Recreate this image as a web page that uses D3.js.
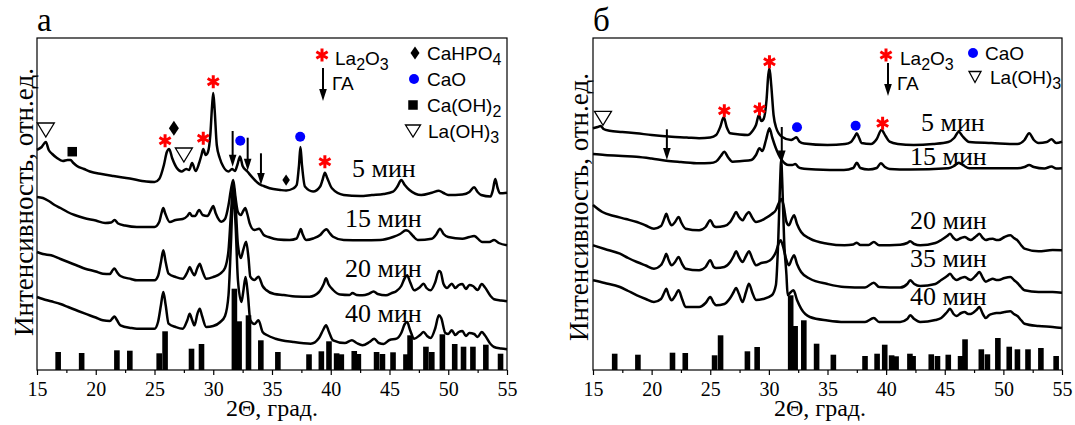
<!DOCTYPE html>
<html><head><meta charset="utf-8">
<script src="https://cdn.jsdelivr.net/npm/d3@7"></script>
<style>body{margin:0;background:#fff}svg{display:block}</style>
</head><body>
<svg id="chart" width="1075" height="425"></svg>
<script>
// ---------------- DATA ----------------
const xTickValues = [15, 20, 25, 30, 35, 40, 45, 50, 55];
const xMinorTickValues = [17.5, 22.5, 27.5, 32.5, 37.5, 42.5, 47.5, 52.5];
const xAxisTitle = "2Θ, град.";
const yAxisTitle = "Интенсивность, отн.ед.";

// Panel а : XRD patterns [2θ, intensity (arb. units)]
const a5min = [[15.0,220],[15.4,223],[15.75,228],[16.0,220],[16.3,216],[16.7,212],[17.2,209],[17.6,210],[17.85,210],[18.1,207],[18.4,204],[19.0,201],[19.5,198.5],[20.5,196],[21.5,194],[22.9,191.5],[24.3,188.5],[25.0,188],[25.4,191],[25.8,205],[26.05,218],[26.25,221],[26.5,212],[26.9,202],[27.3,198.5],[27.7,201],[27.95,200],[28.2,207],[28.5,199],[28.8,207],[29.0,215],[29.15,221],[29.35,215],[29.55,218],[29.75,235],[29.9,264],[30.0,277],[30.12,260],[30.3,225],[30.55,212],[30.85,203.5],[31.3,198.5],[31.6,201],[31.85,199],[32.05,205],[32.28,213.5],[32.5,204],[32.9,198.5],[33.4,191.7],[33.8,187],[34.05,185],[34.3,184],[34.8,181.7],[35.7,180],[36.2,179.5],[36.8,181.5],[37.1,185],[37.3,205],[37.42,223],[37.55,205],[37.8,183.5],[38.5,178.5],[39.1,183.5],[39.3,190],[39.5,197.3],[39.7,192],[40.1,181.7],[41.1,175],[42.5,174],[43.5,175],[44.5,176],[45.3,178.3],[45.7,184],[46.0,190],[46.3,185],[46.7,180],[47.7,175],[48.6,177.3],[49.2,179.3],[49.6,177],[50.0,175],[51.2,175.5],[51.8,178],[52.2,182.7],[52.5,178],[52.8,175],[53.6,173.5],[53.8,180],[54.0,191],[54.2,182],[54.4,176.7],[55.0,177.3]];
const a15min = [[15.0,173],[15.5,172],[16.0,169],[16.5,165],[17.0,162],[17.6,158],[18.2,155],[19.0,152],[20.0,149.5],[20.8,147],[21.3,147.5],[21.6,150],[21.9,146.5],[22.5,144.5],[23.5,143],[25.0,143],[25.4,148],[25.6,157],[25.75,162],[25.9,157],[26.3,148],[26.8,150],[27.4,151],[27.8,154],[28.0,157],[28.2,154],[28.45,154],[28.8,160],[29.1,155],[29.5,154],[29.8,160],[30.0,164],[30.2,157],[30.7,148.3],[31.0,151],[31.3,165],[31.5,180],[31.7,190],[31.9,172],[32.1,158],[32.35,155],[32.55,159],[32.72,162],[32.9,156],[33.1,146.7],[33.5,140],[33.9,141.3],[34.3,135],[34.7,133],[35.5,130.5],[36.5,130],[37.1,131.5],[37.3,137],[37.45,141],[37.6,136],[37.9,130],[38.5,131.5],[39.1,135],[39.45,139.5],[39.65,140.7],[39.9,137],[40.2,133.3],[41.1,130],[42.7,129.7],[44.2,130],[45.3,133],[45.9,136],[46.4,139.7],[46.6,139],[47.0,134],[47.4,130],[48.6,131.3],[49.0,136],[49.3,141.3],[49.6,136],[50.0,133],[51.2,131.3],[51.8,133],[52.2,134],[52.9,128],[53.5,128],[53.9,130],[54.3,127],[55.0,124.7]];
const a20min = [[15.0,118],[15.5,116],[16.2,114.7],[17.0,111],[17.65,108],[18.5,104],[19.1,101.3],[20.0,98.5],[20.6,96.3],[21.2,96],[21.45,100],[21.6,101.5],[21.8,98],[22.1,94],[23.0,91],[23.5,89.7],[25.0,89.7],[25.3,94],[25.55,108],[25.75,119.7],[25.95,108],[26.2,96.3],[26.8,93],[27.4,91.3],[27.8,98],[28.0,103],[28.2,98],[28.4,94.7],[28.65,102],[28.85,106.3],[29.05,100],[29.4,91.3],[30.0,93],[30.6,96.3],[31.0,102],[31.3,120],[31.5,155],[31.7,184],[31.9,165],[32.1,125],[32.35,112],[32.55,120],[32.8,128.3],[33.0,112],[33.15,93.3],[33.5,90],[33.85,93.3],[34.2,84],[34.5,80],[35.2,76],[36.0,75],[37.0,73.5],[38.2,73.3],[39.0,78],[39.4,86],[39.6,91.7],[39.8,86],[40.2,80],[40.8,75.5],[41.6,75],[41.85,77],[42.2,75],[42.7,74.7],[43.2,76],[43.65,78.5],[44.0,76],[44.7,74.7],[45.2,77],[45.6,79],[46.0,84],[46.3,92],[46.5,94.7],[46.75,88],[47.1,79.7],[47.6,83],[47.9,86.3],[48.15,82],[48.5,79.7],[48.9,88],[49.2,99],[49.35,98],[49.6,86],[49.9,82],[50.3,86.3],[50.6,82],[50.9,85],[51.2,86],[51.5,81],[51.8,85],[52.1,84],[52.5,80],[52.85,86],[53.1,83],[53.6,74],[53.9,70.7],[54.5,69.5],[55.0,68.7]];
const a40min = [[15.0,73],[15.5,71],[16.2,68.7],[17.0,66],[17.65,63],[18.5,59],[19.1,56.3],[20.0,52.5],[20.6,49.7],[21.2,49],[21.45,52],[21.6,53.5],[21.8,50],[22.1,44.7],[23.0,42],[23.5,41.3],[25.0,41.3],[25.3,48],[25.55,65],[25.75,78],[25.95,65],[26.2,46.3],[26.8,43],[27.4,41.3],[27.8,50],[28.0,56.3],[28.2,50],[28.4,44.7],[28.65,56],[28.85,61.3],[29.05,54],[29.4,43],[30.0,44],[30.6,48],[31.0,54],[31.3,75],[31.5,125],[31.7,178],[31.9,145],[32.1,90],[32.4,68],[32.55,78],[32.75,93],[32.95,75],[33.15,50],[33.5,46],[33.85,49.7],[34.2,38],[34.6,34.7],[35.3,31.3],[36.8,28],[38.3,26.3],[39.0,32],[39.35,40],[39.6,44.7],[39.85,38],[40.2,29.7],[41.2,27],[41.8,29.7],[42.2,27],[42.7,24.7],[43.3,28],[43.7,31.3],[44.1,27],[44.5,26],[45.0,30],[45.6,31.3],[46.0,37],[46.3,46],[46.5,48],[46.75,40],[47.1,31.3],[47.6,35],[47.9,38],[48.2,34],[48.5,32],[48.9,42],[49.2,54.7],[49.4,52],[49.75,37],[50.0,36],[50.3,39.7],[50.6,35],[50.9,38],[51.2,39],[51.5,34],[51.8,37],[52.2,36],[52.5,33],[52.85,38],[53.1,35],[53.6,26],[53.9,23],[54.5,21.5],[55.0,20.7]];

// Panel б
const b5min = [[15.0,241.7],[15.4,243],[15.65,244],[15.9,241],[16.4,239.3],[17.5,238],[18.7,236.7],[20.0,235],[21.7,233.3],[23.0,232.5],[24.05,231.7],[25.0,232.5],[25.5,235],[25.85,243],[26.15,252.7],[26.4,243],[26.7,236.7],[27.5,235.5],[28.2,235],[28.6,239],[28.9,245],[29.15,255],[29.35,249],[29.55,251],[29.8,270],[29.95,295],[30.05,301.7],[30.2,285],[30.4,255],[30.6,243],[31.1,233.3],[31.9,230],[32.15,231.5],[32.35,232.7],[32.6,228.5],[33.0,226.5],[35.0,225],[36.5,226],[37.0,228],[37.3,233],[37.5,236.7],[37.7,232],[37.9,227],[38.7,226],[39.2,231],[39.6,240],[39.95,234],[40.3,228.3],[41.0,226],[42.35,225],[44.0,226],[45.3,228],[45.8,232],[46.2,238.3],[46.5,234],[47.1,228],[49.0,227],[51.2,226],[51.8,230],[52.2,236.7],[52.6,230],[53.0,227],[53.7,228],[54.1,230.7],[54.5,227],[55.0,228.3]];
const b15min = [[15.0,216],[16.0,215],[17.5,214],[18.7,213.3],[20.0,211.5],[21.25,209.3],[22.5,208],[24.05,206.7],[25.0,207],[25.5,208.5],[25.9,214],[26.2,218.3],[26.5,213],[26.9,208.3],[27.7,209],[28.5,210],[28.9,215],[29.2,221.7],[29.45,219],[29.75,230],[30.05,241.7],[30.3,232],[30.55,223.3],[31.1,210],[31.7,205],[32.0,205],[32.25,206],[32.5,203],[32.75,201.7],[34.0,200.5],[36.4,200],[37.2,202],[37.5,207.3],[37.8,202],[38.5,200.5],[39.2,202],[39.55,206.7],[39.9,203],[40.3,201],[42.0,200.5],[45.3,201.7],[45.8,204],[46.2,207.3],[46.6,204.5],[47.1,201.7],[51.2,201.7],[51.8,203],[52.2,205],[52.6,203],[53.5,201.5],[54.1,203.5],[54.5,201.5],[55.0,201.7]];
const b20min = [[15.0,165],[15.8,158],[16.8,154],[17.8,151],[18.75,148],[19.5,144.5],[20.2,141.3],[20.8,144],[21.1,152],[21.25,156.3],[21.45,150],[21.7,144.7],[22.0,148],[22.3,153],[22.55,147],[22.9,141.3],[24.05,139.7],[24.6,143],[25.0,149.7],[25.3,144],[25.5,143],[26.2,144],[26.7,148],[27.0,154],[27.2,158],[27.45,153],[27.75,149.7],[28.05,155],[28.3,158],[28.55,153],[28.9,148],[29.65,151.3],[30.25,156],[30.6,160],[30.85,167],[31.05,171],[31.25,165],[31.5,148],[31.7,144.7],[31.95,151],[32.15,154.7],[32.4,146],[32.75,138],[33.5,131.3],[35.0,126.3],[36.45,124.7],[37.2,125.5],[37.5,127.3],[37.8,125],[38.5,125],[38.95,128],[39.4,124.7],[41.2,125.3],[41.8,127],[42.05,128.7],[42.4,126],[42.9,124.7],[44.2,127],[44.7,130],[45.2,134],[45.45,136.3],[45.75,132],[46.0,130],[46.4,132],[46.7,133],[47.0,131],[47.2,130],[47.7,134],[47.95,136.3],[48.25,132],[48.5,130],[48.8,131],[49.1,131.3],[49.4,130],[49.6,130],[50.1,133],[50.6,134.7],[50.9,132],[51.2,129.7],[51.5,125],[51.8,121.3],[53.0,118.7],[54.2,120],[55.0,119.7]];
const b35min = [[15.0,124.7],[16.0,121],[17.3,116.3],[18.0,112],[18.75,108],[19.5,104.5],[20.2,101.3],[20.8,105],[21.1,112],[21.25,116.3],[21.45,110],[21.7,104.7],[22.0,108],[22.3,113],[22.6,106],[22.9,101.3],[24.05,99.7],[24.6,103],[25.0,109.7],[25.3,103],[25.5,102],[26.2,103],[26.7,108],[27.0,114],[27.2,118.7],[27.45,113],[27.75,108],[28.05,114],[28.3,118.7],[28.6,111],[28.9,104.7],[29.35,107],[29.8,108],[30.25,111.3],[30.6,118],[30.85,127],[31.0,129.7],[31.2,124],[31.45,112],[31.7,104.7],[31.95,111],[32.15,114.7],[32.4,106],[32.75,98],[33.5,91.3],[35.0,86],[36.45,83],[38.2,82.5],[38.95,87.3],[39.4,83],[41.2,82.5],[41.8,86],[42.05,89.7],[42.4,86],[42.9,84],[44.2,86],[44.7,90],[45.2,94],[45.45,96.3],[45.75,92],[46.0,90],[46.4,92],[46.7,93],[47.0,91],[47.2,90],[47.7,95],[47.95,98],[48.25,92],[48.5,88.3],[48.8,90],[49.1,91.3],[49.4,90],[49.6,90],[50.1,92],[50.6,93],[50.9,90],[51.2,87],[51.5,83],[51.8,79.7],[53.0,78],[54.2,78],[55.0,77.3]];
const b40min = [[15.0,89.7],[16.0,87],[17.3,83],[18.0,79],[18.75,74.7],[19.5,71],[20.2,68],[20.8,71],[21.1,78],[21.25,81.3],[21.45,75],[21.7,69.7],[22.0,74],[22.3,79.7],[22.6,71],[22.9,63],[24.05,63],[24.6,67],[25.0,73],[25.3,67],[25.5,64.7],[26.2,66],[26.7,72],[27.0,78],[27.2,82],[27.45,76],[27.75,68],[28.05,78],[28.3,86.3],[28.6,77],[28.9,70],[29.5,71],[30.25,74.7],[30.6,85],[30.8,130],[30.95,185],[31.05,210],[31.15,185],[31.3,130],[31.5,95],[31.6,75],[31.8,77],[32.1,79.7],[32.4,70],[32.75,61.3],[33.5,53],[35.0,49.5],[36.45,48],[38.2,48],[38.95,52],[39.4,48],[41.2,48],[41.8,51],[42.05,54.7],[42.4,51],[42.9,48],[44.2,50],[44.7,52],[45.2,58],[45.45,61.3],[45.75,56],[46.0,54],[46.4,57],[46.7,58],[47.0,56],[47.2,56],[47.7,60],[47.95,63],[48.25,56],[48.5,52],[48.8,55],[49.1,56.3],[49.4,57],[49.6,57],[50.1,58],[50.6,58.7],[50.9,56],[51.2,54],[51.5,50],[51.8,46.3],[53.0,44],[54.2,43],[55.0,42]];

// Hydroxyapatite reference lines [2θ, relative height]
const haRefA = [[16.8,18],[18.8,17],[21.8,19.7],[22.9,19.3],[25.4,16.7],[25.9,38.7],[28.15,21.3],[29.0,26],[31.8,81.3],[32.2,48.7],[33.0,54.7],[34.05,29.7],[35.5,18],[38.15,15.7],[39.2,18.7],[39.85,28.7],[40.5,16.7],[40.9,15.7],[42.0,19],[42.35,16],[43.9,18],[44.4,16],[45.3,17.7],[46.4,15.7],[46.75,34.7],[48.1,23.3],[48.6,18],[49.5,35.7],[50.55,26],[51.3,23.3],[52.1,23.3],[53.2,25.3],[54.45,16.3]];
const haRefB = [[16.85,16.3],[18.83,15.3],[21.78,17.3],[22.87,17],[25.37,14.7],[25.88,34.7],[28.17,18.7],[29.0,23],[31.86,74.7],[32.24,44],[32.98,49.7],[34.07,26.3],[35.5,15.3],[38.2,14],[39.23,16.3],[39.88,25.3],[40.47,14.7],[40.85,13.7],[42.03,16.3],[42.3,14],[43.85,15.7],[44.38,14],[45.3,15.3],[46.35,14],[46.73,30.7],[48.12,20.7],[48.64,15.7],[49.53,32],[50.5,23.3],[51.2,20.7],[52.1,20.7],[53.2,22],[54.5,14]];

// Phase markers [2θ, level]
const aLa2O3 = [[25.9,229.3],[29.15,231.7],[30.0,288.3],[39.5,208.3]];
const aCaO = [[32.3,229.3],[37.4,233.3]];
const aCaHPO4 = [[26.65,241.7,1],[36.2,190,0.75]];
const aCaOH2 = [[18.0,218.3]];
const aLaOH3 = [[15.75,240],[27.5,215]];
const aHA = [[31.65,239,203.3],[32.93,232.3,199.3],[34.06,216.7,185]]; // [2θ, top, tip]
const bLa2O3 = [[26.2,259.3],[29.2,261],[30.05,308.3],[39.7,246.7]];
const bCaO = [[32.4,242.7],[37.4,244.3]];
const bLaOH3 = [[15.85,251.7]];
const bHA = [[21.3,240.7,210],[31.1,243,207.5]];

const aLabels = ["5 мин","15 мин","20 мин","40 мин"];
const bLabels = ["5 мин","15 мин","20 мин","35 мин","40 мин"];

// ---------------- DRAWING ----------------
const svg = d3.select("#chart");
const SERIF = "'Liberation Serif','Times New Roman',serif";
const SANS = "'Liberation Sans',Arial,sans-serif";

function asterisk(g, cx, cy, r) {
  let d = "";
  for (let k = 0; k < 3; k++) {
    const a = Math.PI / 2 + k * Math.PI / 3;
    d += `M${cx + r * Math.cos(a)},${cy - r * Math.sin(a)}L${cx - r * Math.cos(a)},${cy + r * Math.sin(a)}`;
  }
  g.append("path").attr("d", d).attr("stroke", "#ff0000").attr("stroke-width", 3).attr("stroke-linecap", "butt");
}
function dot(g, cx, cy, r) { g.append("circle").attr("cx", cx).attr("cy", cy).attr("r", r).attr("fill", "#0000ff"); }
function diamond(g, cx, cy, w, h) {
  g.append("path").attr("d", `M${cx},${cy - h/2}L${cx + w/2},${cy}L${cx},${cy + h/2}L${cx - w/2},${cy}Z`).attr("fill", "#000");
}
function square(g, cx, cy, s) { g.append("rect").attr("x", cx - s/2).attr("y", cy - s/2).attr("width", s).attr("height", s).attr("fill", "#000"); }
function triDown(g, cx, cy, w, h) {
  g.append("path").attr("d", `M${cx - w/2},${cy - h/2}L${cx + w/2},${cy - h/2}L${cx},${cy + h/2}Z`)
    .attr("fill", "#fff").attr("stroke", "#000").attr("stroke-width", 1.3);
}
function arrow(g, x, y1, y2) {
  g.append("line").attr("x1", x).attr("x2", x).attr("y1", y1).attr("y2", y2 - 8).attr("stroke", "#000").attr("stroke-width", 2);
  g.append("path").attr("d", `M${x - 3.8},${y2 - 12}L${x + 3.8},${y2 - 12}L${x},${y2}Z`).attr("fill", "#000");
}
function chemText(g, x, y, parts) {
  const t = g.append("text").attr("x", x).attr("y", y).attr("font-family", SANS).attr("font-size", 19).attr("fill", "#000");
  let sub = false;
  parts.forEach(p => {
    const isSub = /^[0-9]$/.test(p);
    const ts = t.append("tspan").text(p);
    if (isSub && !sub) { ts.attr("dy", 5).attr("font-size", 16); sub = true; }
    else if (isSub && sub) { ts.attr("font-size", 16); }
    else if (!isSub && sub) { ts.attr("dy", -5); sub = false; }
  });
}

function panel(opt) {
  const g = svg.append("g");
  const x = d3.scaleLinear().domain([15, 55]).range([opt.left, opt.right]);
  const y = d3.scaleLinear().domain([0, 332]).range([370, 38]);
  const line = d3.line().x(d => x(d[0])).y(d => y(d[1])).curve(d3.curveMonotoneX);

  // reference bars
  g.selectAll("rect.bar").data(opt.bars).join("rect").attr("class", "bar")
    .attr("x", d => x(d[0]) - 2.8).attr("width", 5.6)
    .attr("y", d => y(d[1])).attr("height", d => y(0) - y(d[1])).attr("fill", "#000");

  // curves
  opt.curves.forEach(c => {
    g.append("path").datum(c).attr("d", line).attr("fill", "none")
      .attr("stroke", "#000").attr("stroke-width", 2.5).attr("stroke-linejoin", "round");
  });

  // frame
  g.append("rect").attr("x", opt.left).attr("y", 38).attr("width", opt.right - opt.left).attr("height", 332)
    .attr("fill", "none").attr("stroke", "#000").attr("stroke-width", 1.2);

  // axis
  const ax = g.append("g").attr("transform", "translate(0,370)")
    .call(d3.axisBottom(x).tickValues(xTickValues).tickSize(5).tickPadding(7).tickFormat(d3.format("d")));
  ax.select(".domain").remove();
  ax.selectAll("text").attr("font-family", SERIF).attr("font-size", 20).attr("fill", "#000");
  ax.selectAll("line").attr("stroke", "#000").attr("stroke-width", 1.2);
  const axm = g.append("g").attr("transform", "translate(0,370)")
    .call(d3.axisBottom(x).tickValues(xMinorTickValues).tickSize(3).tickFormat(""));
  axm.select(".domain").remove();
  axm.selectAll("line").attr("stroke", "#000").attr("stroke-width", 1.2);

  // titles
  g.append("text").attr("x", opt.xTitleX).attr("y", 416).attr("text-anchor", "middle")
    .attr("font-family", SERIF).attr("font-size", 24).text(xAxisTitle);
  g.append("text").attr("transform", `translate(${opt.yTitleX},${opt.yTitleY}) rotate(-90)`)
    .attr("text-anchor", "middle").attr("font-family", SERIF).attr("font-size", 27).text(yAxisTitle);
  g.append("text").attr("x", opt.left).attr("y", 31).attr("font-family", SERIF).attr("font-size", 33).text(opt.letter);

  // curve labels
  opt.labels.forEach((s, i) => {
    g.append("text").attr("x", opt.labelPos[i][0]).attr("y", opt.labelPos[i][1])
      .attr("font-family", SERIF).attr("font-size", 26).attr("fill", "#000").text(s);
  });

  // markers
  (opt.stars || []).forEach(d => asterisk(g, x(d[0]), y(d[1]), 6.5));
  (opt.dots || []).forEach(d => dot(g, x(d[0]), y(d[1]), 5));
  (opt.diamonds || []).forEach(d => diamond(g, x(d[0]), y(d[1]), 10 * d[2], 15 * d[2]));
  (opt.squares || []).forEach(d => square(g, x(d[0]), y(d[1]), 9.5));
  (opt.tris || []).forEach(d => triDown(g, x(d[0]), y(d[1]), 17, 14));
  (opt.arrows || []).forEach(d => arrow(g, x(d[0]), y(d[1]), y(d[2])));
  return g;
}

const gA = panel({
  left: 37, right: 507, letter: "а", xTitleX: 272, yTitleX: 33, yTitleY: 202,
  bars: haRefA, curves: [a5min, a15min, a20min, a40min],
  labels: aLabels, labelPos: [[352,177],[345,227],[345,277],[345,322]],
  stars: aLa2O3, dots: aCaO, diamonds: aCaHPO4, squares: aCaOH2, tris: aLaOH3, arrows: aHA
});
const gB = panel({
  left: 593, right: 1062, letter: "б", xTitleX: 820, yTitleX: 588, yTitleY: 207,
  bars: haRefB, curves: [b5min, b15min, b20min, b35min, b40min],
  labels: bLabels, labelPos: [[921,131],[910,165],[910,229],[910,267],[910,305]],
  stars: bLa2O3, dots: bCaO, tris: bLaOH3, arrows: bHA
});

// legends
asterisk(gA, 322, 55, 6.5); chemText(gA, 335, 65, ["La","2","O","3"]);
arrow(gA, 323, 68, 101); chemText(gA, 332, 90, ["ГА"]);
diamond(gA, 415, 53, 9, 13); chemText(gA, 427, 60, ["CaHPO","4"]);
dot(gA, 414, 79, 5); chemText(gA, 427, 86, ["CaO"]);
square(gA, 413, 105, 9.5); chemText(gA, 427, 112, ["Ca(OH)","2"]);
triDown(gA, 413, 131, 15, 12); chemText(gA, 428, 138, ["La(OH)","3"]);

asterisk(gB, 886, 55, 6.5); chemText(gB, 900, 65, ["La","2","O","3"]);
arrow(gB, 888, 63, 96); chemText(gB, 897, 90, ["ГА"]);
dot(gB, 973, 53, 5); chemText(gB, 985, 60, ["CaO"]);
triDown(gB, 975, 77, 12, 11); chemText(gB, 990, 84, ["La(OH)","3"]);
</script>
</body></html>
